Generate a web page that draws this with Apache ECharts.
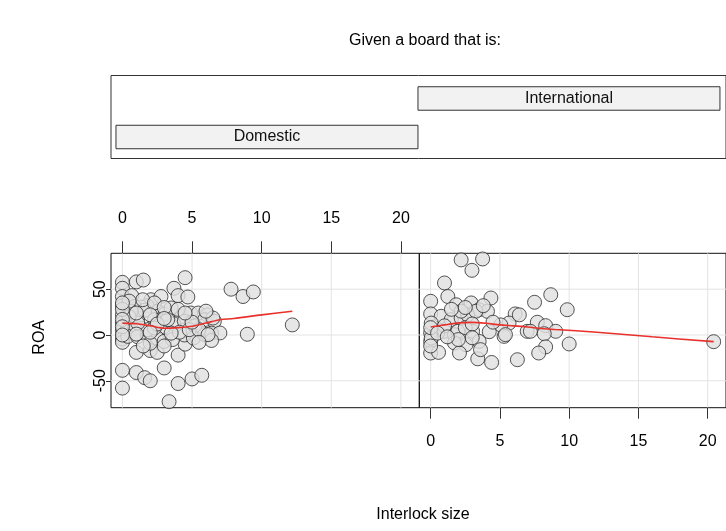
<!DOCTYPE html>
<html><head><meta charset="utf-8">
<script src="https://cdn.jsdelivr.net/npm/echarts@6/dist/echarts.min.js"></script>
<style>html,body{margin:0;padding:0;background:#fff}#c{width:726px;height:531px}</style>
</head><body><div id="c"></div>
<script>
const xTicks = [0, 5, 10, 15, 20];
const yTicks = [-50, 0, 50];
const givenLevels = ['Domestic', 'International'];
const givenRanges = [[0.5, 1.5], [1.5, 2.5]];
const domestic = [
[0,57.5],[1.0,58],[1.5,60],[4.5,62.6],[3.7,51],[4.0,43],[4.7,41.5],[0,51],[0,42],[0.67,43],[0,32],[0,22],[0,13],[0,5],[0,-4.4],[0,-8],[1.0,-19],[2.0,-17],[2.5,-19],[4.0,-22],[4.5,-10],[0,-38.6],[1.0,-41],[1.6,-46.6],[2.0,-50],[3.0,-36],[0,-58],[4.0,-53],[5.0,-48],[5.7,-44],[3.35,-72.8],
[2.05,38.5],[1.77,32],[1.33,30.5],[0.86,31],[2.53,26],[3.06,23],[3.5,29.5],[4.25,20],[4.9,24],[5.45,24],[6.1,22],[1.1,18.5],[1.6,27],[2.3,16.7],[1.33,7.3],[0.38,8],[0.86,6.5],[2.96,8.7],[3.68,12.3],[4.45,15],[5.2,10],[5.9,16.7],[6.6,15],[0.38,-1.5],[1.1,-2],[1.8,-0.7],[2.5,-3.3],[3.0,-7],[3.6,-5],[4.45,0],[5.1,-3.3],[5.9,0.4],[6.4,2],[1.46,38.5],[2.77,42],[2.3,35],[0.62,26],[3.25,16.7],[1.8,5.8],[2.3,7.6],[4.1,3],[4.8,5.8],[5.5,5.8],[1.1,13],[0.48,20],[0.48,37],
[7.8,50],[8.66,42],[9.4,47],[8.97,0.8],[12.2,11],[7.0,2.2],[6.4,-6],[6.5,18.5],[6.0,26],[6.15,0.4],
[0,28],[0,17],[0,9],[0,0],[0,35],[1,24],[2,22],[3,-12],[2,-9],[1.5,-12],[3,30],[4,28],[5,14],[2.5,12],[3.5,2],[1,1],[2,3],[4.5,24],[5.5,-8],[3,18]
];
const international = [
[2.2,82],[3.75,83],[2.98,70.6],[1.0,56.8],[0,36.8],[1.24,42],[0,23],[4.35,40.4],[1.84,33],[2.92,35],[3.5,27.6],[4.1,25.8],[6.1,23],[5.66,13],[5.06,11],[0.76,20.4],[1.48,16.7],[2.2,18.5],[2.67,22],[3.27,26],[0,2.2],[0,-7],[0,-19.7],[0.57,-19],[1.0,4],[1.72,0.3],[1.96,4],[3.03,4],[4.23,3.6],[3.5,-7],[2.55,-10.6],[1.72,-8.7],[2.08,-19.7],[3.4,-26],[4.4,-30],[6.26,-27],[5.3,-1.5],[5.4,0.4],[6.97,4],[3.6,-16],[2.2,26],[0.04,13],[0.04,-3.3],
[8.67,44],[7.5,35.7],[9.86,27.6],[7.7,13.9],[8.3,10.2],[9.03,4],[7.2,4],[8.2,1.4],[10.0,-9.8],[8.3,-13],[7.8,-19.7],[6.4,22],[20.43,-7.3],
[0,-12],[0,8],[1,10],[2.5,8],[3,12],[3.8,32],[2.5,30],[1.5,28],[0.5,2],[4.5,14],[3,-3],[2,-5],[1.2,-2]
];
const domSmooth = [[0,13],[1,12.3],[2,10],[3,7.3],[4,8],[5,9.5],[6,13],[7,16.7],[8,18],[10,22],[12.2,26]];
const intSmooth = [[0,8.7],[1,11],[2,13.2],[3,13.8],[4,12.8],[5,11],[6,10],[7,8.7],[8,7],[9,6],[12,3],[16,-2],[20.43,-7.3]];

const FONT = '"Liberation Sans", Arial, sans-serif';
const xMin = -0.82, xMax = 21.32, yMin = -79.4, yMax = 89.2;

function vLines(xi, yi) {
  return { type: 'custom', xAxisIndex: xi, yAxisIndex: yi, z: 0, silent: true,
    data: xTicks.map(v => [v]),
    renderItem: (params, api) => {
      const p = api.coord([api.value(0), 0]); const cs = params.coordSys;
      return { type: 'line', shape: { x1: p[0], y1: cs.y, x2: p[0], y2: cs.y + cs.height }, style: { stroke: '#e3e3e3', lineWidth: 1 } };
    } };
}
function hLines(xi, yi) {
  return { type: 'custom', xAxisIndex: xi, yAxisIndex: yi, z: 0, silent: true,
    data: yTicks.map(v => [0, v]),
    renderItem: (params, api) => {
      const p = api.coord([0, api.value(1)]); const cs = params.coordSys;
      return { type: 'line', shape: { x1: cs.x, y1: p[1], x2: cs.x + cs.width, y2: p[1] }, style: { stroke: '#e3e3e3', lineWidth: 1 } };
    } };
}
const pt = { color: '#e0e0e0', borderColor: '#2a2a2a', borderWidth: 1 };
const chart = echarts.init(document.getElementById('c'), null, { renderer: 'canvas' });
chart.setOption({
  animation: false,
  backgroundColor: '#fff',
  textStyle: { fontFamily: FONT },
  title: [
    { text: 'Given a board that is:', left: 420, top: 28, textAlign: 'center', textStyle: { fontSize: 16, fontWeight: 'normal', color: '#000', fontFamily: FONT } },
    { text: 'Interlock size', left: 418, top: 502, textAlign: 'center', textStyle: { fontSize: 16, fontWeight: 'normal', color: '#000', fontFamily: FONT } }
  ],
  graphic: [
    { type: 'text', left: 32, top: 320, rotation: Math.PI / 2, style: { text: 'ROA', fontSize: 16, fill: '#000', fontFamily: FONT } }
  ],
  grid: [
    { left: 111, top: 253.3, width: 308.3, height: 154.4, show: true, borderColor: '#111', borderWidth: 1, backgroundColor: 'transparent' },
    { left: 419.3, top: 253.3, width: 308.8, height: 154.4, show: true, borderColor: '#111', borderWidth: 1, backgroundColor: 'transparent' },
    { left: 111, top: 75.5, width: 617, height: 83, show: true, borderColor: '#333', borderWidth: 1, backgroundColor: 'transparent' }
  ],
  xAxis: [
    { gridIndex: 0, type: 'value', position: 'top', min: xMin, max: xMax,
      axisLine: { show: false, onZero: false }, splitLine: { show: false },
      axisTick: { show: true, length: 12, customValues: xTicks, lineStyle: { color: '#333' } },
      axisLabel: { customValues: xTicks, margin: 27, fontSize: 16, color: '#000', fontFamily: FONT } },
    { gridIndex: 1, type: 'value', position: 'bottom', min: xMin, max: xMax,
      axisLine: { show: false, onZero: false }, splitLine: { show: false },
      axisTick: { show: true, length: 11, customValues: xTicks, lineStyle: { color: '#333' } },
      axisLabel: { customValues: xTicks, margin: 26, fontSize: 16, color: '#000', fontFamily: FONT } },
    { gridIndex: 2, type: 'value', min: 0.4835, max: 2.52, show: false }
  ],
  yAxis: [
    { gridIndex: 0, type: 'value', position: 'left', min: yMin, max: yMax,
      axisLine: { show: false, onZero: false }, splitLine: { show: false },
      axisTick: { show: true, length: 5, customValues: yTicks, lineStyle: { color: '#333' } },
      axisLabel: { customValues: yTicks, rotate: 90, margin: 2, fontSize: 16, color: '#000', fontFamily: FONT } },
    { gridIndex: 1, type: 'value', min: yMin, max: yMax, show: false, splitLine: { show: false } },
    { gridIndex: 2, type: 'value', min: 0.4416, max: 2.597, show: false }
  ],
  series: [
    vLines(0, 0), hLines(0, 0), vLines(1, 1), hLines(1, 1),
    { type: 'scatter', xAxisIndex: 0, yAxisIndex: 0, data: domestic, symbolSize: 14, itemStyle: pt, z: 2 },
    { type: 'scatter', xAxisIndex: 1, yAxisIndex: 1, data: international, symbolSize: 14, itemStyle: pt, z: 2 },
    { type: 'line', xAxisIndex: 0, yAxisIndex: 0, data: domSmooth, smooth: 0.3, showSymbol: false, lineStyle: { color: '#e8312a', width: 1.6 }, z: 3 },
    { type: 'line', xAxisIndex: 1, yAxisIndex: 1, data: intSmooth, smooth: 0.3, showSymbol: false, lineStyle: { color: '#e8312a', width: 1.6 }, z: 3 },
    { type: 'custom', xAxisIndex: 2, yAxisIndex: 2, silent: true,
      data: givenLevels.map((n, i) => [givenRanges[i][0], givenRanges[i][1], i + 1, n]),
      renderItem: (params, api) => {
        const lvl = api.value(2);
        const a = api.coord([api.value(0), lvl + 0.305]);
        const b = api.coord([api.value(1), lvl - 0.305]);
        return { type: 'group', children: [
          { type: 'rect', shape: { x: a[0], y: a[1], width: b[0] - a[0], height: b[1] - a[1] }, style: { fill: '#f2f2f2', stroke: '#333', lineWidth: 1 } },
          { type: 'text', style: { text: givenLevels[params.dataIndex], x: (a[0] + b[0]) / 2, y: (a[1] + b[1]) / 2, align: 'center', verticalAlign: 'middle', fontSize: 16, fill: '#111', fontFamily: FONT } }
        ] };
      } }
  ]
});
</script></body></html>
